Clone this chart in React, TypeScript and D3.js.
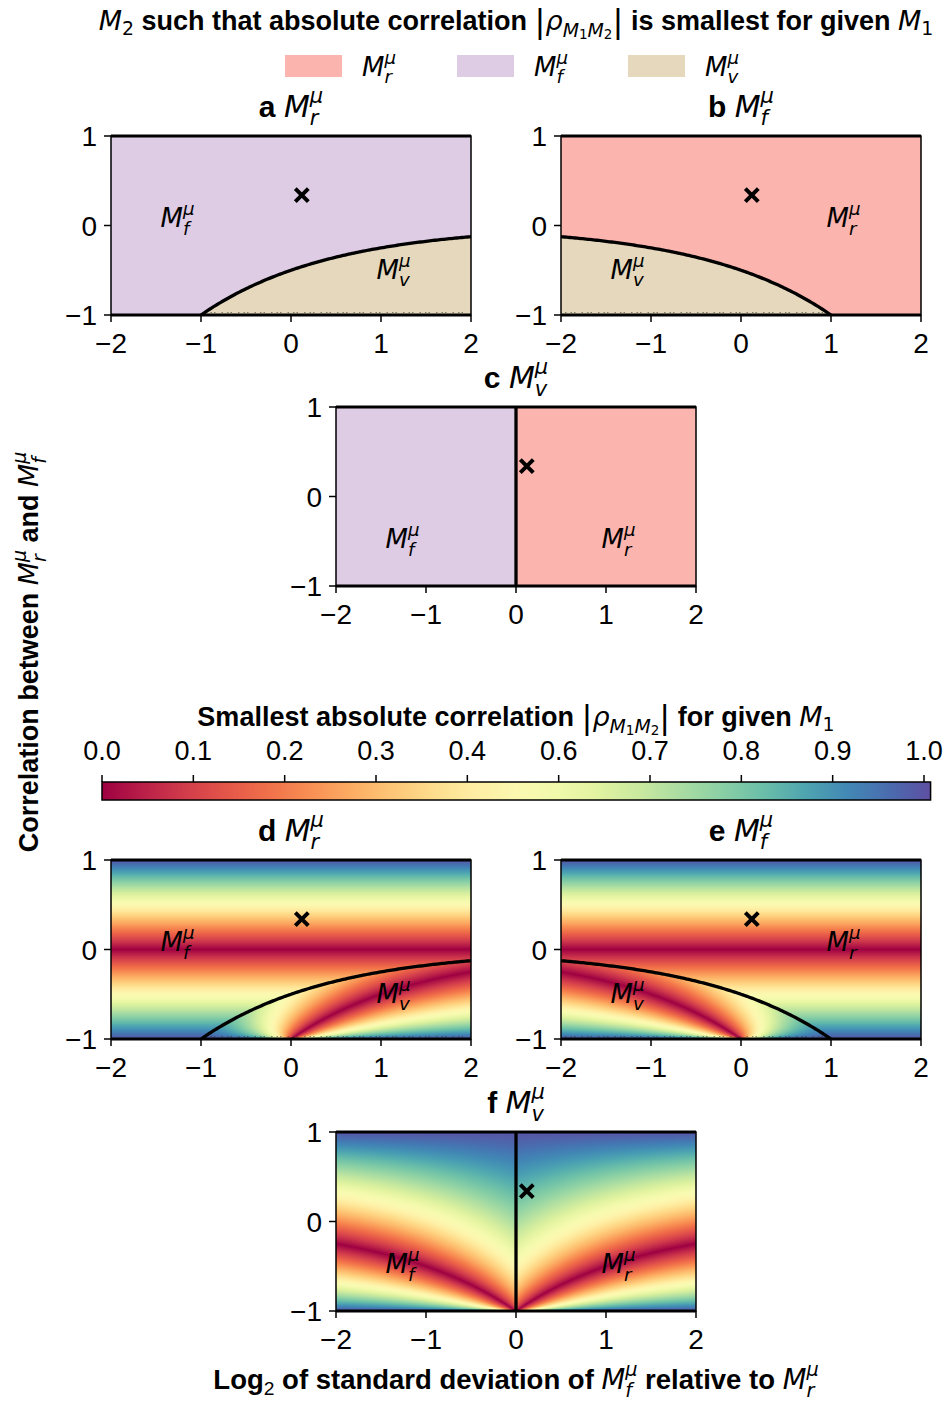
import React, { useMemo } from "react";
import * as d3 from "d3";

// axes
const X_DOMAIN = [-2, 2];
const Y_DOMAIN = [-1, 1];
const X_TICKS = [-2, -1, 0, 1, 2];
const Y_TICKS = [-1, 0, 1];
// the "x" marker (log2 sd ratio, correlation)
const MARKER = [0.12, 0.34];
// colorbar ticks sit at linspace(0, 1, 10), labelled with one decimal
const CBAR_TICK_LABELS = ["0.0", "0.1", "0.2", "0.3", "0.4", "0.6", "0.7", "0.8", "0.9", "1.0"];
const CBAR_MAX = 1.008;
const LEGEND_KEYS = ["r", "f", "v"];
const REGION_COLORS: Record<string, string> = { r: "#fbb4ae", f: "#decbe4", v: "#e5d8bd" };

// M1 -> the two candidate M2
const CANDIDATES: Record<string, string[]> = { r: ["f", "v"], f: ["r", "v"], v: ["f", "r"] };

const PANELS = [
  { id: "a", m1: "r", kind: "region", left: 111, top: 136, labels: [["f", -1.26, -0.02], ["v", 1.14, -0.6]] },
  { id: "b", m1: "f", kind: "region", left: 561, top: 136, labels: [["r", 1.14, -0.02], ["v", -1.26, -0.6]] },
  { id: "c", m1: "v", kind: "region", left: 336, top: 407, labels: [["f", -1.26, -0.58], ["r", 1.14, -0.58]] },
  { id: "d", m1: "r", kind: "heat", left: 111, top: 860, labels: [["f", -1.26, -0.02], ["v", 1.14, -0.6]] },
  { id: "e", m1: "f", kind: "heat", left: 561, top: 860, labels: [["r", 1.14, -0.02], ["v", -1.26, -0.6]] },
  { id: "f", m1: "v", kind: "heat", left: 336, top: 1132, labels: [["f", -1.26, -0.58], ["r", 1.14, -0.58]] },
];

const PW = 360;
const PH = 179;

const SANS = "'Liberation Sans', Arial, sans-serif";
const MATH = "'DejaVu Sans', sans-serif";

// correlations between the three quantities; M_v = M_r + M_f, s = sd(M_f)/sd(M_r)
function corrs(x: number, rho: number) {
  const s = Math.pow(2, x);
  const d = Math.sqrt(Math.max(1e-12, 1 + s * s + 2 * rho * s));
  const rv = (1 + rho * s) / d;
  const fv = (rho + s) / d;
  return { rf: rho, fr: rho, rv, vr: rv, fv, vf: fv } as Record<string, number>;
}

function pick(m1: string, x: number, rho: number) {
  const c = corrs(x, rho);
  const [p, q] = CANDIDATES[m1];
  const a = Math.abs(c[m1 + p]);
  const b = Math.abs(c[m1 + q]);
  return a <= b ? { who: p, val: a } : { who: q, val: b };
}

// boundary where both candidates are equally correlated
function boundary(m1: string): [number, number][] {
  if (m1 === "v") return [[0, -1], [0, 1]];
  if (m1 === "r") return d3.range(-1, 2.001, 0.02).map((x) => [x, -1 / (2 * Math.pow(2, x))]);
  return d3.range(-2, 1.001, 0.02).map((x) => [x, -Math.pow(2, x) / 2]);
}

function renderImage(m1: string, kind: string) {
  const canvas = document.createElement("canvas");
  canvas.width = PW;
  canvas.height = PH;
  const ctx = canvas.getContext("2d");
  if (!ctx) return "";
  const img = ctx.createImageData(PW, PH);
  const xs = d3.scaleLinear().domain([0, PW]).range(X_DOMAIN);
  const ys = d3.scaleLinear().domain([0, PH]).range([Y_DOMAIN[1], Y_DOMAIN[0]]);
  for (let j = 0; j < PH; j++) {
    for (let i = 0; i < PW; i++) {
      const res = pick(m1, xs(i + 0.5), ys(j + 0.5));
      const col = d3.rgb(kind === "heat" ? d3.interpolateSpectral(Math.min(1, res.val) / CBAR_MAX) : REGION_COLORS[res.who]);
      const k = (j * PW + i) * 4;
      img.data[k] = col.r;
      img.data[k + 1] = col.g;
      img.data[k + 2] = col.b;
      img.data[k + 3] = 255;
    }
  }
  ctx.putImageData(img, 0, 0);
  return canvas.toDataURL();
}

type Seg = { t: string; k?: string; s?: number; sh?: number; dx?: number };

const FONTS: Record<string, any> = {
  b: { fontFamily: SANS, fontWeight: "bold", fontStyle: "normal" },
  n: { fontFamily: SANS, fontWeight: "normal", fontStyle: "normal" },
  i: { fontFamily: MATH, fontWeight: "normal", fontStyle: "oblique" },
  r: { fontFamily: MATH, fontWeight: "normal", fontStyle: "normal" },
};

const SUB_W: Record<string, number> = { r: 0.411, f: 0.352, v: 0.592 };

function mSeg(sub: string): Seg[] {
  return [
    { t: "M", k: "i" },
    { t: sub, k: "i", s: 0.7, sh: -0.28 },
    { t: "μ", k: "i", s: 0.7, sh: 0.46, dx: -SUB_W[sub] * 0.7 },
  ];
}

const RHO_SEGS: Seg[] = [
  { t: "|", k: "r", s: 1.2, sh: -0.08 },
  { t: "ρ", k: "i", sh: 0 },
  { t: "M", k: "i", s: 0.7, sh: -0.25 },
  { t: "1", k: "r", s: 0.5, sh: -0.35 },
  { t: "M", k: "i", s: 0.7, sh: -0.25 },
  { t: "2", k: "r", s: 0.5, sh: -0.35 },
  { t: "|", k: "r", s: 1.2, sh: -0.08 },
];

function RichText({ x, y, size, segs, anchor = "middle", transform }: any) {
  let prev = 0;
  return (
    <text x={x} y={y} fontSize={size} textAnchor={anchor} transform={transform} fill="#000">
      {segs.map((g: Seg, i: number) => {
        const sh = g.sh || 0;
        const dy = -(sh - prev) * size;
        prev = sh;
        return (
          <tspan key={i} {...FONTS[g.k || "b"]} fontSize={size * (g.s || 1)} dy={dy || undefined} dx={g.dx ? g.dx * size : undefined}>
            {g.t}
          </tspan>
        );
      })}
    </text>
  );
}

function Panel({ p }: any) {
  const x = d3.scaleLinear().domain(X_DOMAIN).range([p.left, p.left + PW]);
  const y = d3.scaleLinear().domain(Y_DOMAIN).range([p.top + PH, p.top]);
  const href = useMemo(() => renderImage(p.m1, p.kind), [p.m1, p.kind]);
  const line = d3.line().x((d) => x(d[0])).y((d) => y(d[1]));
  const bpts = boundary(p.m1);
  const [mx, my] = [x(MARKER[0]), y(MARKER[1])];
  const ms = 6.5;
  // the degenerate rho = -1 row leaves a speckled edge under the v region
  const dotted = p.m1 === "v" ? null : p.m1 === "r" ? [-1, 2] : [-2, 1];
  return (
    <g>
      <image href={href} x={p.left} y={p.top} width={PW} height={PH} preserveAspectRatio="none" />
      {dotted && (
        <line x1={x(dotted[0]) + 4} x2={x(dotted[1]) - 4} y1={y(-1) - 2.5} y2={y(-1) - 2.5}
          stroke="#333" strokeWidth={1.2} strokeDasharray="1.5 4 1.5 2 1.5 6" opacity={0.55} />
      )}
      <rect x={p.left} y={p.top} width={PW} height={PH} fill="none" stroke="#000" strokeWidth={1.5} />
      <line x1={p.left} x2={p.left + PW} y1={y(1)} y2={y(1)} stroke="#000" strokeWidth={3} />
      <line x1={p.left} x2={p.left + PW} y1={y(-1)} y2={y(-1)} stroke="#000" strokeWidth={3} />
      <path d={line(bpts as any) || ""} fill="none" stroke="#000" strokeWidth={3.3} />
      <path d={`M${mx - ms},${my - ms}L${mx + ms},${my + ms}M${mx - ms},${my + ms}L${mx + ms},${my - ms}`}
        stroke="#000" strokeWidth={4} />
      {p.labels.map((l: any, i: number) => (
        <RichText key={i} x={x(l[1])} y={y(l[2])} size={26} segs={mSeg(l[0])} />
      ))}
      {X_TICKS.map((t) => (
        <g key={"x" + t}>
          <line x1={x(t)} x2={x(t)} y1={p.top + PH} y2={p.top + PH + 7} stroke="#000" strokeWidth={1.5} />
          <text x={x(t)} y={p.top + PH + 38} textAnchor="middle" fontSize={28} fontFamily={SANS}>
            {d3.format("d")(t)}
          </text>
        </g>
      ))}
      {Y_TICKS.map((t) => (
        <g key={"y" + t}>
          <line x1={p.left - 7} x2={p.left} y1={y(t)} y2={y(t)} stroke="#000" strokeWidth={1.5} />
          <text x={p.left - 14} y={y(t) + 10} textAnchor="end" fontSize={28} fontFamily={SANS}>
            {d3.format("d")(t)}
          </text>
        </g>
      ))}
      <RichText x={x(0)} y={p.top - 19} size={30} segs={[{ t: p.id + " ", k: "b" }, ...mSeg(p.m1)]} />
    </g>
  );
}

function Colorbar() {
  const left = 102, top = 782, h = 18;
  const c = d3.scaleLinear().domain([0, 1]).range([left, 924]);
  const stops = d3.range(0, 1.0001, 0.05);
  const tickPos = d3.range(CBAR_TICK_LABELS.length).map((i) => i / (CBAR_TICK_LABELS.length - 1));
  return (
    <g>
      <defs>
        <linearGradient id="spectral" x1="0" x2="1" y1="0" y2="0">
          {stops.map((s) => (
            <stop key={s} offset={s} stopColor={d3.interpolateSpectral(s)} />
          ))}
        </linearGradient>
      </defs>
      <rect x={left} y={top} width={c(CBAR_MAX) - left} height={h} fill="url(#spectral)" stroke="#000" strokeWidth={1.5} />
      {tickPos.map((t, i) => (
        <g key={i}>
          <line x1={c(t)} x2={c(t)} y1={top} y2={top - 7} stroke="#000" strokeWidth={1.5} />
          <text x={c(t)} y={top - 22} textAnchor="middle" fontSize={27} fontFamily={SANS}>
            {CBAR_TICK_LABELS[i]}
          </text>
        </g>
      ))}
      <RichText x={516} y={726} size={27}
        segs={[
          { t: "Smallest absolute correlation ", k: "b" },
          ...RHO_SEGS,
          { t: " for given ", k: "b", sh: 0 },
          { t: "M", k: "i" },
          { t: "1", k: "r", s: 0.7, sh: -0.2 },
        ]} />
    </g>
  );
}

export default function App() {
  const legendX = [285, 457, 628];
  return (
    <svg width={943} height={1401} style={{ position: "absolute", left: 0, top: 0, display: "block", background: "#fff" }}>
      <RichText x={516} y={30} size={27}
        segs={[
          { t: "M", k: "i" },
          { t: "2", k: "r", s: 0.7, sh: -0.2 },
          { t: " such that absolute correlation ", k: "b", sh: 0 },
          ...RHO_SEGS,
          { t: " is smallest for given ", k: "b", sh: 0 },
          { t: "M", k: "i" },
          { t: "1", k: "r", s: 0.7, sh: -0.2 },
        ]} />
      {LEGEND_KEYS.map((k, i) => (
        <g key={k}>
          <rect x={legendX[i]} y={55} width={57} height={22} fill={REGION_COLORS[k]} />
          <RichText x={legendX[i] + 77} y={76} size={26} anchor="start" segs={mSeg(k)} />
        </g>
      ))}
      {PANELS.map((p) => (
        <Panel key={p.id} p={p} />
      ))}
      <Colorbar />
      <RichText transform="translate(38,652) rotate(-90)" x={0} y={0} size={27}
        segs={[{ t: "Correlation between ", k: "b" }, ...mSeg("r"), { t: " and ", k: "b", sh: 0 }, ...mSeg("f")]} />
      <RichText x={516} y={1389} size={27.5}
        segs={[
          { t: "Log", k: "b" },
          { t: "2", k: "n", s: 0.7, sh: -0.2 },
          { t: " of standard deviation of ", k: "b", sh: 0 },
          ...mSeg("f"),
          { t: " relative to ", k: "b", sh: 0 },
          ...mSeg("r"),
        ]} />
    </svg>
  );
}
